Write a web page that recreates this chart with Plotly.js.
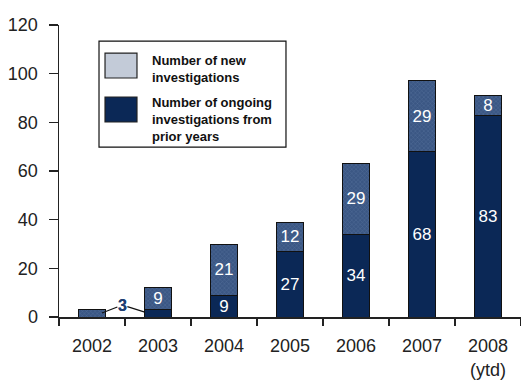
<!DOCTYPE html>
<html>
<head>
<meta charset="utf-8">
<script src="https://cdn.plot.ly/plotly-3.0.1.min.js"></script>
<style>html,body{margin:0;padding:0;background:#fff;}#chart{width:521px;height:386px;}</style>
</head>
<body>
<div id="chart"></div>
<script>
var years = ['2002', '2003', '2004', '2005', '2006', '2007', '2008<br>(ytd)'];
var ongoingInvestigations = [0, 3, 9, 27, 34, 68, 83];
var newInvestigations = [3, 9, 21, 12, 29, 29, 8];
var yTicks = [0, 20, 40, 60, 80, 100, 120];
var legendNew = 'Number of new<br>investigations';
var legendOngoing = 'Number of ongoing<br>investigations from<br>prior years';

var NUMF = '"Liberation Sans", Arial, sans-serif';
var SANS = '"Liberation Sans", Arial, sans-serif';
var NAVY = '#0b2856';
var HATCH = '#3b5784';

function labelFor(v) { return v >= 5 ? String(v) : ''; }

var traces = [
  {
    type: 'bar', name: legendOngoing, x: years, y: ongoingInvestigations,
    text: ongoingInvestigations.map(labelFor), textposition: 'inside', insidetextanchor: 'middle',
    textangle: 0, constraintext: 'none',
    textfont: {family: NUMF, size: 17, color: '#ffffff'},
    marker: {color: NAVY, line: {color: '#111111', width: 1}},
    width: 0.42, hoverinfo: 'y'
  },
  {
    type: 'bar', name: legendNew, x: years, y: newInvestigations,
    text: newInvestigations.map(labelFor), textposition: 'inside', insidetextanchor: 'middle',
    textangle: 0, constraintext: 'none',
    textfont: {family: NUMF, size: 17, color: '#ffffff'},
    marker: {color: HATCH, line: {color: '#111111', width: 1},
      pattern: {shape: 'x', size: 3, solidity: 0.25, fgcolor: '#6e89b0', fillmode: 'overlay'}},
    width: 0.42, hoverinfo: 'y'
  }
];

// callout for the small "3" values (2002 bar and 2003 ongoing segment)
var calloutText = String(ongoingInvestigations[1]);
var calloutX = 0.46, calloutY = 4.9;
var annotations = [
  {x: 0.15, y: newInvestigations[0] * 0.55, xref: 'x', yref: 'y', ax: calloutX, ay: calloutY, axref: 'x', ayref: 'y',
   text: '<b>' + calloutText + '</b>', showarrow: true, arrowhead: 0, arrowwidth: 1.2, arrowcolor: '#111',
   font: {family: SANS, size: 16, color: '#1f3f73'}, standoff: 0, borderpad: 0},
  {x: 0.8, y: ongoingInvestigations[1] * 0.67, xref: 'x', yref: 'y', ax: calloutX, ay: calloutY, axref: 'x', ayref: 'y',
   text: '<b>' + calloutText + '</b>', showarrow: true, arrowhead: 0, arrowwidth: 1.2, arrowcolor: '#111',
   font: {family: SANS, size: 16, color: '#1f3f73'}, standoff: 0, borderpad: 0},
  {x: 0.197, y: 0.851, xref: 'paper', yref: 'paper', xanchor: 'left', yanchor: 'middle', align: 'left',
   text: '<b>' + legendNew + '</b>', showarrow: false, font: {family: SANS, size: 13, color: '#111'}},
  {x: 0.197, y: 0.678, xref: 'paper', yref: 'paper', xanchor: 'left', yanchor: 'middle', align: 'left',
   text: '<b>' + legendOngoing + '</b>', showarrow: false, font: {family: SANS, size: 13, color: '#111'}}
];

var shapes = [
  {type: 'rect', xref: 'paper', yref: 'paper', x0: 0.0866, x1: 0.4913, y0: 0.582, y1: 0.945,
   line: {color: '#111', width: 1.2}, fillcolor: '#ffffff'},
  {type: 'rect', xref: 'paper', yref: 'paper', x0: 0.0996, x1: 0.1688, y0: 0.8185, y1: 0.904,
   line: {color: '#222', width: 1.2}, fillcolor: '#c3cbd8'},
  {type: 'rect', xref: 'paper', yref: 'paper', x0: 0.0996, x1: 0.1688, y0: 0.6678, y1: 0.7534,
   line: {color: '#222', width: 1.2}, fillcolor: NAVY}
];

var layout = {
  width: 521, height: 386,
  margin: {l: 59, r: 0, t: 25, b: 69, pad: 0},
  paper_bgcolor: '#ffffff', plot_bgcolor: '#ffffff',
  barmode: 'stack', showlegend: false,
  xaxis: {
    type: 'category', range: [-0.5, 6.5], tickson: 'boundaries', ticks: 'outside', ticklen: 7,
    tickwidth: 1.5, tickcolor: '#222', showline: true, linecolor: '#222', linewidth: 1.5,
    showgrid: false, zeroline: false, fixedrange: true, ticklabelstandoff: 12,
    tickfont: {family: NUMF, size: 18, color: '#222'}
  },
  yaxis: {
    range: [0, 120], tickvals: yTicks, ticktext: yTicks.map(String), ticks: 'outside', ticklen: 9,
    tickwidth: 1.5, tickcolor: '#222', showline: true, linecolor: '#222', linewidth: 1.5,
    showgrid: false, zeroline: false, fixedrange: true, ticklabelstandoff: 7,
    tickfont: {family: NUMF, size: 18, color: '#222'}
  },
  annotations: annotations,
  shapes: shapes
};

Plotly.newPlot('chart', traces, layout, {displayModeBar: false, staticPlot: true});
</script>
</body>
</html>
